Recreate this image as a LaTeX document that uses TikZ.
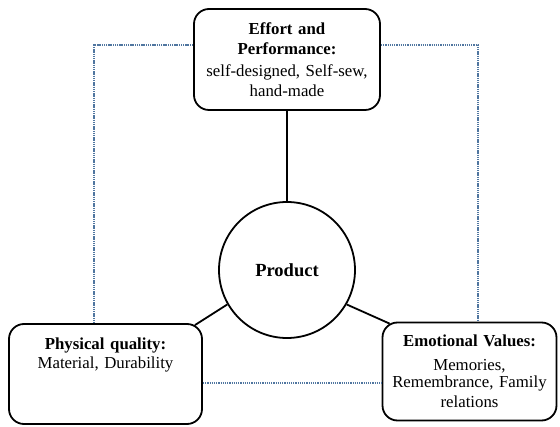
\documentclass[tikz,border=0pt]{standalone}
\usepackage{fontspec}
\setmainfont{Liberation Serif}
\usetikzlibrary{calc}
\definecolor{dotblue}{RGB}{80,118,160}
\tikzset{
  box/.style={draw, line width=1.8pt, rounded corners=15pt, align=center, inner sep=2pt,
              font=\fontsize{16.8}{19.5}\selectfont},
  hub/.style={draw, circle, line width=1.8pt, minimum size=136pt, inner sep=0pt,
              font=\fontsize{18.5}{20}\selectfont\bfseries},
  link/.style={line width=1.8pt},
  dotline/.style={draw=dotblue, line width=1.7pt, dash pattern=on 1.3pt off 0.9pt}
}
\begin{document}
\begin{tikzpicture}[x=1pt,y=-1pt]
\useasboundingbox (0,0) rectangle (560,427);
\node[box, minimum width=186pt, minimum height=101pt, text width=180pt] (top) at (287,59.5)
  {\textbf{Effort and}\\\textbf{Performance:}\\[3pt]self-designed, Self-sew,\\hand-made};
\node[box, minimum width=193pt, minimum height=100pt, text width=186pt] (left) at (105.5,374)
  {\textbf{Physical quality:}\\Material, Durability\\[22pt]\mbox{}};
\node[box, minimum width=173pt, minimum height=98pt, text width=170pt] (right) at (469.5,371.5)
  {\textbf{Emotional Values:}\\[7pt]\fontsize{16.8}{17}\selectfont Memories,\\Remembrance, Family\\relations};
\node[hub] (prod) at (287,270) {Product};
\coordinate (cl) at (94,45);
\coordinate (cr) at (478,45);
\coordinate (bm) at (290,383);
\draw[link] (top.south) -- (prod.north);
\draw[link] (prod.210) -- ([xshift=-8pt,yshift=-2pt]left.north east);
\draw[link] (prod.330) -- ([xshift=8pt,yshift=-2pt]right.north west);
\draw[dotline] (top.west |- cl) -- (cl) -- (cl |- left.north);
\draw[dotline] (top.east |- cr) -- (cr) -- (cr |- right.north);
\draw[dotline] (left.east |- bm) -- (right.west |- bm);
\end{tikzpicture}
\end{document}
